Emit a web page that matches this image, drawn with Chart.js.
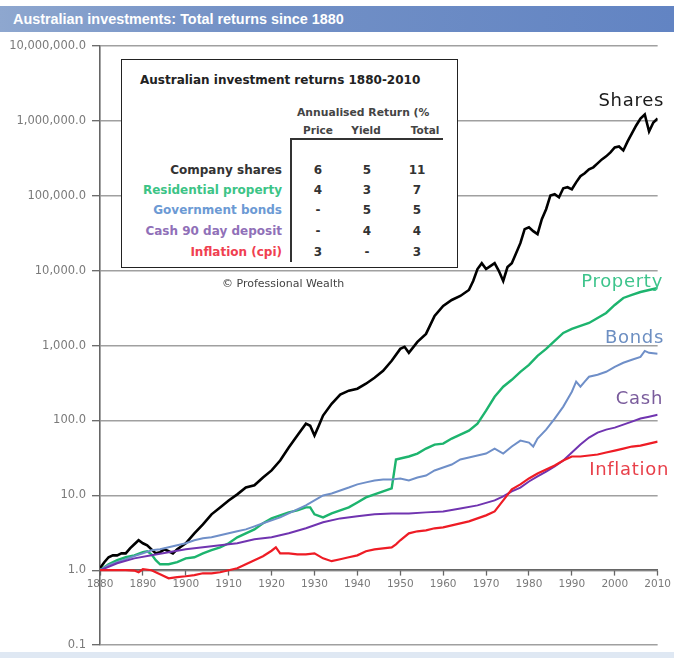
<!DOCTYPE html>
<html>
<head>
<meta charset="utf-8">
<title>Australian investments: Total returns since 1880</title>
<script src="https://cdn.jsdelivr.net/npm/chart.js@4.4.1/dist/chart.umd.min.js"></script>
<style>
  html, body { margin: 0; padding: 0; background: #fff; }
  #wrap { position: relative; width: 674px; height: 658px; overflow: hidden; font-family: "DejaVu Sans", Verdana, sans-serif; }
  #chart { position: absolute; left: 0; top: 0; }
  .t { position: absolute; white-space: nowrap; line-height: 1; }
  .l { transform: translateY(-50%); }
  .c { transform: translate(-50%, -50%); }
  .r { transform: translate(-100%, -50%); }
  #titlebar {
    position: absolute; left: 0; top: 6px; width: 674px; height: 26px;
    background: linear-gradient(to right, #8ea7cf 0%, #7391c6 35%, #6284c3 100%);
  }
  #titlebar span {
    position: absolute; left: 13px; top: 50%; transform: translateY(-50%);
    color: #fff; font: bold 14.4px "Liberation Sans", Arial, sans-serif; white-space: nowrap;
  }
  #footline { position: absolute; left: 0; top: 652px; width: 674px; height: 6px; background: #dfe8f3; }
  #box {
    position: absolute; left: 121px; top: 59px; width: 335px; height: 207px;
    border: 1.5px solid #222; background: #fff;
  }
  .hline { position: absolute; left: 291px; top: 138px; width: 152px; height: 1.5px; background: #333; }
  .vline { position: absolute; left: 290px; top: 138px; width: 1.5px; height: 124px; background: #333; }
  .row { font-weight: bold; font-size: 12px; }
  .val { font-weight: bold; font-size: 12px; color: #333; }
  .head { font-weight: bold; font-size: 10.5px; color: #444; }
  .series { font-size: 18px; letter-spacing: 0.7px; }
</style>
</head>
<body>
<div id="wrap">
  <canvas id="chart" width="674" height="658"></canvas>

  <div id="titlebar"><span>Australian investments: Total returns since 1880</span></div>

  <div id="box"></div>
  <div class="t l" style="left:140px; top:80px; font-weight:bold; font-size:12px; color:#222;">Australian investment returns 1880-2010</div>
  <div class="t l head" style="left:297px; top:113px; font-size:10.8px;">Annualised Return (%</div>
  <div class="t c head" style="left:318px; top:130px;">Price</div>
  <div class="t c head" style="left:366px; top:130px;">Yield</div>
  <div class="t c head" style="left:425px; top:130px;">Total</div>
  <div class="hline"></div>
  <div class="vline"></div>

  <div class="t r row" style="left:282px; top:170px; color:#333;">Company shares</div>
  <div class="t r row" style="left:282px; top:190px; color:#3cc486;">Residential property</div>
  <div class="t r row" style="left:282px; top:210px; color:#6c9ad4;">Government bonds</div>
  <div class="t r row" style="left:282px; top:231px; color:#9070b8;">Cash 90 day deposit</div>
  <div class="t r row" style="left:282px; top:252px; color:#f04050;">Inflation (cpi)</div>

  <div class="t c val" style="left:318px; top:170px;">6</div>
  <div class="t c val" style="left:367px; top:170px;">5</div>
  <div class="t c val" style="left:417px; top:170px;">11</div>
  <div class="t c val" style="left:318px; top:190px;">4</div>
  <div class="t c val" style="left:367px; top:190px;">3</div>
  <div class="t c val" style="left:417px; top:190px;">7</div>
  <div class="t c val" style="left:318px; top:210px;">-</div>
  <div class="t c val" style="left:367px; top:210px;">5</div>
  <div class="t c val" style="left:417px; top:210px;">5</div>
  <div class="t c val" style="left:318px; top:231px;">-</div>
  <div class="t c val" style="left:367px; top:231px;">4</div>
  <div class="t c val" style="left:417px; top:231px;">4</div>
  <div class="t c val" style="left:318px; top:252px;">3</div>
  <div class="t c val" style="left:367px; top:252px;">-</div>
  <div class="t c val" style="left:417px; top:252px;">3</div>

  <div class="t l" style="left:222px; top:283px; font-size:11px; color:#444;">© Professional Wealth</div>

  <div class="t r series" style="left:664px; top:100px; color:#1a1a1a;">Shares</div>
  <div class="t r series" style="left:663px; top:281px; color:#3ec48c;">Property</div>
  <div class="t r series" style="left:664px; top:337px; color:#6d8fc2;">Bonds</div>
  <div class="t r series" style="left:663px; top:398px; color:#7a5c9c;">Cash</div>
  <div class="t r series" style="left:669px; top:469px; color:#e8404a;">Inflation</div>

  <div id="footline"></div>
</div>

<script>
// Total return indices, 1880 = 1.0 (log scale)
const yTickValues = [0.1, 1, 10, 100, 1000, 10000, 100000, 1000000, 10000000];
const xTickYears = [1880, 1890, 1900, 1910, 1920, 1930, 1940, 1950, 1960, 1970, 1980, 1990, 2000, 2010];

const sharesYears = [1880,1881,1882,1883,1884,1885,1886,1887,1888,1889,1890,1891,1892,1893,1894,1895,1896,1897,1898,1899,1900,
  1902,1904,1906,1908,1910,1912,1914,1916,1918,1920,1922,1924,1926,1928,1929,1930,1931,
  1932,1934,1936,1938,1940,1942,1944,1946,1948,1950,1951,1952,1954,1956,1958,1960,1962,1964,1966,
  1967,1968,1969,1970,1971,1972,1973,1974,1975,1976,1977,1978,1979,1980,1981,1982,1983,1984,1985,1986,1987,1988,1989,
  1990,1991,1992,1993,1994,1995,1996,1997,1998,1999,2000,2001,2002,2003,2004,2005,2006,2007,2008,2009,2010];
const sharesValues = [1.06,1.28,1.49,1.58,1.58,1.68,1.68,1.96,2.22,2.51,2.29,2.15,1.90,1.68,1.74,1.90,1.79,1.68,1.90,2.09,2.29,
  3.11,4.10,5.57,6.90,8.55,10.3,12.7,13.6,17.3,21.5,29.2,43.4,62.8,90.6,85,62.8,85,
  116,167,221,250,265,309,371,460,626,903,961,800,1120,1432,2485,3380,4060,4590,5520,
  7280,10500,12600,10500,11500,12600,9880,7280,11170,12600,17100,23300,35800,38000,33700,30700,48700,66100,101000,105000,95500,126000,130000,
  122000,151000,182000,200000,225000,240000,271000,306000,336000,380000,443000,456000,403000,532000,679000,869000,1077000,1217000,722000,953000,1077000];

const propertyYears = [1880,1882,1884,1886,1888,1890,1891,1892,1893,1894,1896,1898,1900,1902,1904,1906,1908,1910,1912,1914,1916,1918,1920,
  1922,1924,1926,1928,1929,1930,1932,1934,1936,1938,1940,1942,1944,1946,1948,1949,1950,1952,1954,1956,1958,1960,1962,1964,1966,1968,
  1970,1972,1974,1976,1978,1980,1982,1984,1986,1988,1990,1992,1994,1996,1998,2000,2002,2004,2006,2008,2010];
const propertyValues = [1.0,1.20,1.36,1.49,1.58,1.74,1.79,1.63,1.36,1.20,1.20,1.28,1.44,1.49,1.68,1.85,2.02,2.29,2.75,3.11,3.51,4.23,4.92,
  5.40,5.92,6.29,6.90,6.90,5.57,5.08,5.74,6.29,6.90,8.04,9.38,10.3,11.3,12.4,30.1,31.0,33.0,36.1,42.1,47.6,49.1,57.3,64.7,73.1,90.6,
  135,207,282,349,446,553,729,903,1155,1476,1667,1829,2005,2337,2725,3483,4316,4733,5190,5520,5870];

const bondsYears = [1880,1882,1884,1886,1888,1890,1892,1894,1896,1898,1900,1902,1904,1906,1908,1910,1912,1914,1916,1918,1920,
  1922,1924,1926,1928,1930,1932,1934,1936,1938,1940,1942,1944,1946,1948,1950,1952,1954,1956,1958,1960,1962,1964,1966,1968,1970,
  1972,1974,1976,1978,1980,1981,1982,1984,1986,1988,1990,1991,1992,1993,1994,1996,1998,2000,2002,2004,2006,2007,2008,2010];
const bondsValues = [1.0,1.17,1.28,1.40,1.54,1.68,1.85,1.90,2.02,2.15,2.29,2.51,2.67,2.75,2.93,3.11,3.31,3.51,3.85,4.23,4.63,
  5.08,5.74,6.49,7.34,8.55,9.97,10.6,11.6,12.7,14.0,14.9,15.8,16.3,16.3,16.8,15.8,17.3,18.4,21.5,23.5,25.8,30.1,32.0,34.0,36.1,
  42.1,36.1,44.8,53.8,50.6,44.8,57.3,75.4,106,153,242,329,282,329,383,407,446,520,589,645,707,849,800,775];

const cashYears = [1880,1884,1888,1892,1896,1900,1904,1908,1912,1916,1920,1924,1928,1932,1936,1940,1944,1948,1952,1956,1960,1964,1968,1972,
  1974,1976,1978,1980,1982,1984,1986,1988,1990,1992,1994,1996,1998,2000,2002,2004,2006,2008,2010];
const cashValues = [1.0,1.24,1.44,1.58,1.74,1.90,2.02,2.15,2.29,2.59,2.75,3.11,3.63,4.36,4.92,5.24,5.57,5.74,5.74,5.92,6.10,6.69,7.34,8.55,
  9.67,11.3,12.7,15.3,17.9,20.8,24.3,29.2,37.3,47.6,59.0,68.8,75.4,80.2,87.9,96.4,106,112,119];

const inflationYears = [1880,1882,1884,1886,1888,1889,1890,1892,1894,1896,1898,1900,1902,1904,1906,1908,1910,1912,1914,1916,1918,1920,1921,
  1922,1924,1926,1928,1930,1932,1934,1936,1938,1940,1942,1944,1946,1948,1949,1950,1952,1954,1956,1958,1960,1962,1964,1966,1968,1970,
  1972,1974,1976,1978,1980,1982,1984,1986,1988,1990,1992,1994,1996,1998,2000,2002,2004,2006,2008,2010];
const inflationValues = [1.0,1.0,1.0,1.0,0.99,0.94,1.03,1.0,0.885,0.78,0.81,0.83,0.86,0.91,0.91,0.94,1.0,1.06,1.20,1.36,1.54,1.82,2.02,
  1.68,1.68,1.63,1.63,1.68,1.44,1.32,1.40,1.49,1.58,1.79,1.90,1.96,2.02,2.22,2.51,3.11,3.31,3.41,3.63,3.74,3.97,4.23,4.49,4.92,5.40,
  6.10,8.55,12.0,14.0,16.8,19.6,22.1,25.0,29.2,33.0,33.0,34.0,35.1,37.3,39.6,42.1,44.8,46.2,49.1,52.2];

function points(years, values) {
  return years.map((yr, i) => ({ x: yr, y: values[i] }));
}

function series(label, years, values, color, width) {
  return {
    label,
    data: points(years, values),
    borderColor: color,
    borderWidth: width,
    pointRadius: 0,
    tension: 0,
    fill: false
  };
}

const axisGrey = '#666';

new Chart(document.getElementById('chart'), {
  type: 'line',
  data: {
    datasets: [
      series('Inflation', inflationYears, inflationValues, '#ee1c25', 2.2),
      series('Cash', cashYears, cashValues, '#7034b0', 2),
      series('Bonds', bondsYears, bondsValues, '#6f8fc8', 2),
      series('Property', propertyYears, propertyValues, '#1db46e', 2.4),
      series('Shares', sharesYears, sharesValues, '#000000', 2.6)
    ]
  },
  options: {
    responsive: false,
    devicePixelRatio: 1,
    animation: false,
    layout: { padding: { left: 0, right: 12, top: 46, bottom: 12 } },
    plugins: { legend: { display: false }, tooltip: { enabled: false }, title: { display: false } },
    scales: {
      y: {
        type: 'logarithmic',
        min: 0.1,
        max: 10000000,
        afterBuildTicks: (scale) => { scale.ticks = yTickValues.map(v => ({ value: v })); },
        afterFit: (scale) => { scale.width = 100; },
        ticks: {
          color: '#7a7a7a',
          font: { family: 'DejaVu Sans', size: 11.5 },
          padding: 6,
          callback: (v) => Number(v).toLocaleString('en-US', { minimumFractionDigits: 1, maximumFractionDigits: 1 })
        },
        grid: { color: '#a0a0a0', lineWidth: 1.4, tickLength: 8, tickColor: axisGrey, tickWidth: 1.3 },
        border: { display: true, color: axisGrey, width: 1.6 }
      },
      x: {
        type: 'linear',
        position: { y: 1 },
        min: 1880,
        max: 2010,
        afterBuildTicks: (scale) => { scale.ticks = xTickYears.map(v => ({ value: v })); },
        ticks: {
          color: '#7a7a7a',
          font: { family: 'DejaVu Sans', size: 10.5 },
          padding: 3,
          autoSkip: false,
          maxRotation: 0,
          callback: (v) => String(v)
        },
        grid: { drawOnChartArea: false, tickLength: 5, tickColor: axisGrey, tickWidth: 1.3 },
        border: { display: true, color: axisGrey, width: 1.6 }
      }
    }
  }
});
</script>
</body>
</html>
